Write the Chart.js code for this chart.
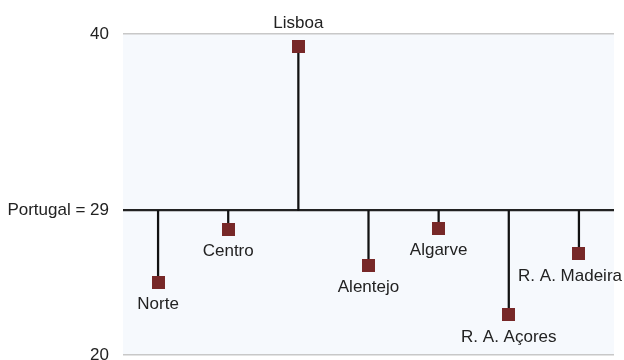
<!DOCTYPE html>
<html>
<head>
<meta charset="utf-8">
<script src="https://cdn.jsdelivr.net/npm/chart.js@4/dist/chart.umd.min.js"></script>
<style>
html,body{margin:0;padding:0;background:#fff;}
#wrap{width:624px;height:360px;position:relative;}
</style>
</head>
<body>
<div id="wrap"><canvas id="c" width="624" height="360"></canvas></div>
<script>
const regions = ["Norte", "Centro", "Lisboa", "Alentejo", "Algarve", "R. A. Açores", "R. A. Madeira"];
const values = [24.5, 27.8, 39.2, 25.6, 27.9, 22.5, 26.3];
const baseline = 29;
const baselineLabel = "Portugal = 29";
const yTicks = [20, 29, 40];

const FONT = "'Liberation Sans', Arial, sans-serif";

// square marker image (13 x 13)
const marker = document.createElement('canvas');
marker.width = 13; marker.height = 13;
(function () {
  const m = marker.getContext('2d');
  m.fillStyle = '#772828';
  m.fillRect(0, 0, 13, 13);
})();

const bgPlugin = {
  id: 'bg',
  beforeDraw(chart) {
    const a = chart.chartArea, ctx = chart.ctx;
    ctx.save();
    ctx.fillStyle = '#f6f9fd';
    ctx.fillRect(a.left, a.top, a.right - a.left, a.bottom - a.top);
    ctx.restore();
  }
};

const labelPlugin = {
  id: 'lbls',
  afterDatasetsDraw(chart) {
    const ctx = chart.ctx;
    const meta = chart.getDatasetMeta(1);
    ctx.save();
    ctx.font = '17px ' + FONT;
    ctx.fillStyle = '#222';
    ctx.textAlign = 'center';
    ctx.textBaseline = 'middle';
    meta.data.forEach((el, i) => {
      const txt = regions[i];
      const w = ctx.measureText(txt).width;
      let x = el.x;
      if (x + w / 2 > chart.width - 2) x = chart.width - 2 - w / 2;
      const y = values[i] >= baseline ? el.y - 24 : el.y + 22;
      ctx.fillText(txt, x, y);
    });
    ctx.restore();
  }
};

new Chart(document.getElementById('c'), {
  type: 'bar',
  data: {
    labels: regions,
    datasets: [
      {
        type: 'bar',
        data: values.map(v => [baseline, v]),
        backgroundColor: '#111',
        barThickness: 1.6,
        order: 2
      },
      {
        type: 'line',
        data: values,
        showLine: false,
        pointStyle: marker,
        pointRadius: 0.5,
        pointHoverRadius: 0.5,
        pointBorderWidth: 0,
        pointHoverBorderWidth: 0,
        order: 1
      }
    ]
  },
  plugins: [bgPlugin, labelPlugin],
  options: {
    responsive: false,
    animation: false,
    events: [],
    layout: { padding: { top: 34, right: 10, bottom: 5, left: 0 } },
    plugins: { legend: { display: false }, tooltip: { enabled: false } },
    scales: {
      x: {
        display: false,
        offset: true
      },
      y: {
        min: 20,
        max: 40,
        afterBuildTicks(scale) { scale.ticks = yTicks.map(v => ({ value: v })); },
        afterFit(scale) {
          scale.width = 123;
          scale.paddingTop = 0;
          scale.paddingBottom = 0;
        },
        border: { display: false },
        grid: {
          drawTicks: false,
          color: c => (c.tick && c.tick.value === baseline) ? '#222' : '#c8c8c8',
          lineWidth: c => (c.tick && c.tick.value === baseline) ? 2.2 : 1.5
        },
        ticks: {
          padding: 14,
          color: '#222',
          font: { family: FONT, size: 17 },
          callback: v => v === baseline ? baselineLabel : String(v)
        }
      }
    }
  }
});
</script>
</body>
</html>
